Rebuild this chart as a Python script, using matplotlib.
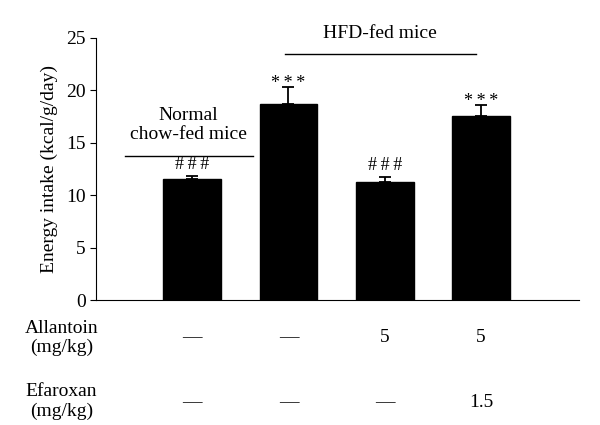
import matplotlib
matplotlib.use("Agg")
import matplotlib.pyplot as plt
from matplotlib.transforms import blended_transform_factory

# values
groups = [1, 2, 3, 4]
intake = [11.5, 18.7, 11.3, 17.5]
intake_sem = [0.35, 1.6, 0.45, 1.05]
marks = ["###", "***", "###", "***"]
allantoin = ["—", "—", "5", "5"]
efaroxan = ["—", "—", "—", "1.5"]

plt.rcParams['font.family'] = ['Liberation Serif', 'DejaVu Serif']
FS = 14

fig = plt.figure(figsize=(6, 4.25), dpi=100)
ax = fig.add_axes([0.16, 0.294, 0.805, 0.617])

ax.bar(groups, intake, width=0.6, color='black', edgecolor='black')
ax.errorbar(groups, intake, yerr=[[0] * 4, intake_sem], fmt='none',
            ecolor='black', elinewidth=1.3, capsize=4, capthick=1.3)

for g, v, e, m in zip(groups, intake, intake_sem, marks):
    spaced = "\u2009".join(m)
    # asterisks sit high in the font, so pull them down a bit
    off = -0.45 if m[0] == "*" else 0.25
    ax.text(g, v + e + off, spaced, ha='center', va='bottom', fontsize=FS - 1)

# group brackets
ax.plot([0.3, 1.63], [13.75, 13.75], color='black', lw=1, clip_on=False)
ax.text(0.96, 15.0, "Normal\nchow-fed mice", ha='center', va='bottom',
        fontsize=FS, linespacing=1.1)
ax.plot([1.96, 3.95], [23.5, 23.5], color='black', lw=1, clip_on=False)
ax.text(2.95, 24.6, "HFD-fed mice", ha='center', va='bottom', fontsize=FS,
        clip_on=False)

ax.set_xlim(0, 5.02)
ax.set_ylim(0, 25)
ax.set_yticks([0, 5, 10, 15, 20, 25])
ax.set_xticks([])
ax.spines['top'].set_visible(False)
ax.spines['right'].set_visible(False)
ax.tick_params(axis='y', labelsize=FS, length=4, direction='out')
ax.set_ylabel("Energy intake (kcal/g/day)", fontsize=FS, labelpad=6)

# treatment table under the axis
tr = blended_transform_factory(ax.transData, fig.transFigure)
for g, a, ef in zip(groups, allantoin, efaroxan):
    ax.text(g, 0.205, a, transform=tr, ha='center', va='center', fontsize=FS)
    ax.text(g, 0.053, ef, transform=tr, ha='center', va='center', fontsize=FS)
fig.text(0.102, 0.205, "Allantoin\n(mg/kg)", ha='center', va='center',
         fontsize=FS, linespacing=1.15)
fig.text(0.102, 0.055, "Efaroxan\n(mg/kg)", ha='center', va='center',
         fontsize=FS, linespacing=1.15)

fig.savefig("out.png", dpi=100)
